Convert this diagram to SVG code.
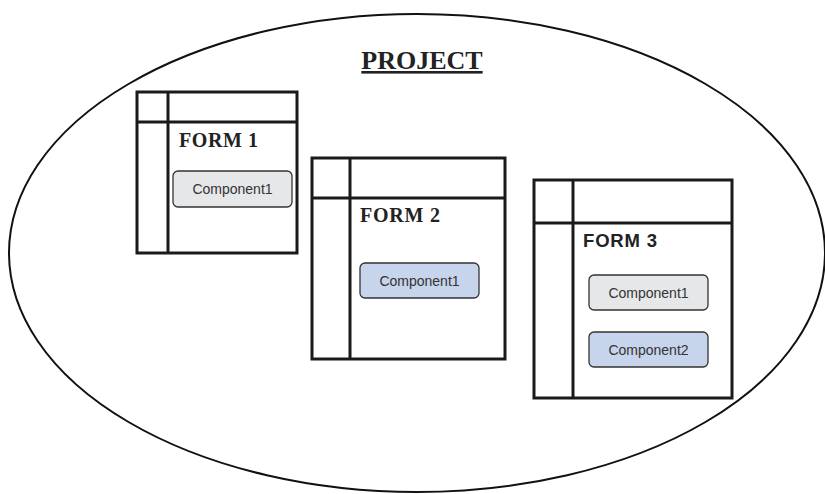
<svg xmlns="http://www.w3.org/2000/svg" width="825" height="494" viewBox="0 0 825 494">
<style>
.frame{fill:#ffffff;stroke:#1a1a1a;stroke-width:3}
.div{stroke:#1a1a1a;stroke-width:3}
.comp{stroke:#333333;stroke-width:1.3}
.gray{fill:#e6e7e9}
.blue{fill:#c6d4ec}
.ct{font-family:"Liberation Sans",Arial,sans-serif;font-size:14px;fill:#333333;text-anchor:middle}
.ft{font-family:"Liberation Serif","Times New Roman",serif;font-weight:bold;font-size:20px;fill:#222222}
</style>
<rect width="825" height="494" fill="#ffffff"/>
<g id="project">
<ellipse cx="417" cy="253" rx="408" ry="239" fill="none" stroke="#111111" stroke-width="2"/>
<text x="422" y="69" text-anchor="middle" font-family="'Liberation Serif','Times New Roman',serif" font-weight="bold" font-size="26" fill="#222222" text-decoration="underline">PROJECT</text>
</g>
<g id="form1">
<rect class="frame" x="137" y="92" width="160" height="161"/>
<line class="div" x1="168" y1="92" x2="168" y2="253"/>
<line class="div" x1="137" y1="122" x2="297" y2="122"/>
<text class="ft" x="179" y="147" textLength="79">FORM 1</text>
<rect class="comp gray" x="173" y="171" width="119" height="36" rx="5"/>
<text class="ct" x="232.5" y="194">Component1</text>
</g>
<g id="form2">
<rect class="frame" x="312" y="158" width="193" height="201"/>
<line class="div" x1="350" y1="158" x2="350" y2="359"/>
<line class="div" x1="312" y1="198" x2="505" y2="198"/>
<text class="ft" x="360" y="222" textLength="80">FORM 2</text>
<rect class="comp blue" x="360" y="263" width="119" height="35" rx="5"/>
<text class="ct" x="419.5" y="285.5">Component1</text>
</g>
<g id="form3">
<rect class="frame" x="534" y="180" width="198" height="218"/>
<line class="div" x1="573" y1="180" x2="573" y2="398"/>
<line class="div" x1="534" y1="223" x2="732" y2="223"/>
<text x="583" y="247" font-family="'Liberation Sans',Arial,sans-serif" font-weight="bold" font-size="18.5" fill="#222222" textLength="74">FORM 3</text>
<rect class="comp gray" x="589" y="275" width="119" height="35" rx="5"/>
<text class="ct" x="648.5" y="297.5">Component1</text>
<rect class="comp blue" x="589" y="332" width="119" height="35" rx="5"/>
<text class="ct" x="648.5" y="354.5">Component2</text>
</g>
<g id="connectors"></g>
</svg>
